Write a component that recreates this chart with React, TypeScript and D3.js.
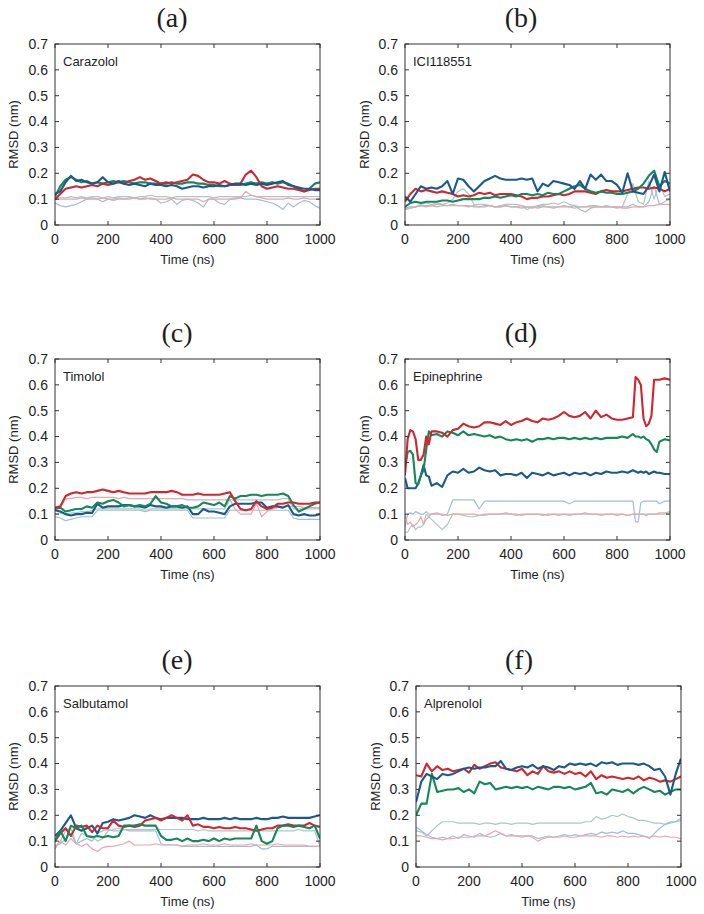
import React from "react";
import * as d3 from "d3";

// Time grids (ns)
const T = [0,20,40,60,80,100,120,140,160,180,200,220,240,260,280,300,320,340,360,380,400,420,440,460,480,500,520,540,560,580,600,620,640,660,680,700,720,740,760,780,800,820,840,860,880,900,920,940,960,980,1000];
const TD = [0,10,20,30,40,50,60,70,80,90,100,120,140,160,180,200,220,240,260,280,300,320,340,360,380,400,420,440,460,480,500,520,540,560,580,600,620,640,660,680,700,720,740,760,780,800,820,840,860,870,880,890,900,910,920,930,940,950,960,980,1000];

const yTicks = [0,0.1,0.2,0.3,0.4,0.5,0.6,0.7];
const xTicks = [0,200,400,600,800,1000];

// (a) Carazolol
const aRed = [0.10,0.12,0.14,0.145,0.15,0.145,0.15,0.155,0.15,0.16,0.155,0.16,0.165,0.16,0.17,0.175,0.185,0.175,0.18,0.17,0.16,0.165,0.16,0.165,0.17,0.175,0.195,0.19,0.175,0.165,0.165,0.16,0.17,0.16,0.155,0.16,0.195,0.21,0.185,0.15,0.14,0.145,0.15,0.145,0.14,0.14,0.135,0.13,0.135,0.14,0.14];
const aGreen = [0.11,0.15,0.175,0.185,0.175,0.165,0.17,0.16,0.165,0.16,0.165,0.17,0.165,0.17,0.165,0.16,0.165,0.165,0.16,0.16,0.16,0.16,0.165,0.16,0.16,0.165,0.165,0.16,0.16,0.155,0.155,0.15,0.15,0.155,0.155,0.155,0.16,0.165,0.16,0.165,0.16,0.165,0.16,0.165,0.16,0.15,0.14,0.13,0.14,0.16,0.165];
const aBlue = [0.12,0.13,0.165,0.19,0.17,0.175,0.165,0.16,0.165,0.185,0.165,0.16,0.17,0.16,0.155,0.16,0.155,0.15,0.16,0.155,0.155,0.15,0.155,0.15,0.14,0.145,0.15,0.15,0.145,0.15,0.15,0.155,0.15,0.155,0.16,0.16,0.155,0.16,0.155,0.16,0.155,0.16,0.165,0.17,0.155,0.15,0.145,0.14,0.14,0.135,0.135];
const aThinTeal = [0.10,0.105,0.105,0.11,0.105,0.11,0.105,0.11,0.11,0.105,0.11,0.105,0.11,0.11,0.11,0.105,0.11,0.11,0.115,0.11,0.11,0.11,0.105,0.11,0.11,0.11,0.11,0.11,0.11,0.11,0.105,0.11,0.11,0.11,0.11,0.11,0.11,0.115,0.11,0.11,0.11,0.11,0.11,0.11,0.11,0.11,0.11,0.11,0.11,0.11,0.11];
const aThinPink = [0.10,0.10,0.10,0.10,0.10,0.105,0.10,0.10,0.10,0.105,0.10,0.10,0.105,0.10,0.10,0.105,0.10,0.10,0.105,0.10,0.10,0.10,0.105,0.10,0.10,0.10,0.10,0.10,0.09,0.10,0.10,0.10,0.10,0.10,0.105,0.105,0.13,0.115,0.11,0.105,0.10,0.10,0.10,0.10,0.105,0.10,0.10,0.105,0.10,0.10,0.10];
const aThinBlue = [0.085,0.075,0.07,0.075,0.08,0.09,0.10,0.105,0.10,0.09,0.10,0.095,0.10,0.10,0.105,0.105,0.10,0.105,0.10,0.10,0.085,0.09,0.10,0.08,0.095,0.10,0.095,0.085,0.07,0.10,0.10,0.085,0.08,0.10,0.10,0.105,0.10,0.10,0.10,0.095,0.09,0.085,0.075,0.06,0.085,0.07,0.085,0.095,0.09,0.075,0.065];

// (b) ICI118551
const bRed = [0.09,0.12,0.14,0.13,0.135,0.13,0.125,0.13,0.125,0.12,0.11,0.115,0.11,0.115,0.125,0.12,0.125,0.115,0.12,0.12,0.12,0.115,0.11,0.10,0.105,0.105,0.11,0.11,0.115,0.12,0.115,0.12,0.13,0.13,0.13,0.125,0.12,0.13,0.135,0.13,0.13,0.13,0.135,0.14,0.145,0.145,0.14,0.145,0.14,0.13,0.14];
const bGreen = [0.07,0.085,0.09,0.085,0.09,0.09,0.09,0.095,0.095,0.09,0.095,0.10,0.10,0.10,0.10,0.105,0.105,0.11,0.105,0.11,0.115,0.11,0.12,0.12,0.115,0.12,0.115,0.125,0.12,0.12,0.13,0.14,0.15,0.155,0.14,0.13,0.125,0.13,0.125,0.125,0.12,0.12,0.125,0.13,0.14,0.16,0.19,0.21,0.15,0.17,0.16];
const bBlue = [0.11,0.09,0.12,0.15,0.14,0.145,0.14,0.15,0.17,0.12,0.18,0.175,0.15,0.13,0.15,0.17,0.18,0.19,0.18,0.175,0.175,0.175,0.18,0.175,0.18,0.13,0.16,0.15,0.17,0.165,0.16,0.155,0.14,0.17,0.14,0.195,0.175,0.195,0.17,0.17,0.155,0.125,0.20,0.13,0.125,0.12,0.15,0.195,0.13,0.205,0.13];
const bThinPink = [0.06,0.065,0.07,0.075,0.075,0.075,0.08,0.08,0.075,0.075,0.075,0.075,0.075,0.07,0.07,0.075,0.075,0.07,0.07,0.075,0.07,0.07,0.075,0.07,0.07,0.065,0.07,0.07,0.07,0.07,0.07,0.07,0.065,0.07,0.07,0.07,0.07,0.07,0.07,0.07,0.07,0.065,0.065,0.07,0.07,0.07,0.075,0.075,0.08,0.08,0.08];
const bThinTeal = [0.06,0.065,0.07,0.08,0.085,0.08,0.085,0.08,0.085,0.10,0.13,0.14,0.12,0.08,0.08,0.08,0.075,0.07,0.075,0.08,0.08,0.08,0.075,0.06,0.07,0.075,0.08,0.08,0.085,0.08,0.09,0.08,0.075,0.07,0.07,0.075,0.075,0.07,0.075,0.07,0.07,0.07,0.12,0.16,0.09,0.08,0.17,0.10,0.16,0.11,0.12];
const bThinBlue = [0.065,0.07,0.07,0.075,0.07,0.075,0.07,0.075,0.075,0.08,0.075,0.075,0.07,0.075,0.07,0.07,0.075,0.07,0.07,0.075,0.07,0.07,0.065,0.07,0.065,0.07,0.075,0.07,0.065,0.07,0.075,0.07,0.075,0.06,0.05,0.065,0.07,0.07,0.07,0.07,0.065,0.07,0.07,0.08,0.07,0.07,0.09,0.15,0.08,0.09,0.10];

// (c) Timolol
const cRed = [0.125,0.13,0.17,0.18,0.185,0.18,0.185,0.185,0.19,0.195,0.19,0.185,0.19,0.185,0.18,0.18,0.18,0.18,0.185,0.185,0.185,0.185,0.19,0.185,0.175,0.175,0.175,0.18,0.175,0.175,0.175,0.175,0.18,0.185,0.15,0.12,0.115,0.12,0.15,0.13,0.12,0.125,0.14,0.14,0.145,0.145,0.14,0.14,0.14,0.145,0.145];
const cGreen = [0.12,0.125,0.11,0.115,0.12,0.12,0.13,0.125,0.145,0.14,0.15,0.155,0.145,0.13,0.135,0.13,0.135,0.13,0.14,0.17,0.145,0.14,0.13,0.13,0.135,0.125,0.125,0.13,0.145,0.14,0.135,0.145,0.13,0.17,0.16,0.17,0.17,0.175,0.175,0.17,0.175,0.175,0.175,0.18,0.17,0.135,0.11,0.12,0.13,0.14,0.145];
const cBlue = [0.115,0.11,0.10,0.095,0.10,0.10,0.105,0.105,0.14,0.125,0.13,0.13,0.13,0.135,0.135,0.13,0.13,0.125,0.135,0.13,0.13,0.125,0.13,0.13,0.125,0.13,0.10,0.10,0.12,0.11,0.11,0.105,0.10,0.13,0.14,0.14,0.14,0.14,0.145,0.145,0.125,0.13,0.13,0.125,0.135,0.10,0.095,0.10,0.095,0.095,0.10];
const cThinPink = [0.12,0.125,0.16,0.16,0.165,0.165,0.16,0.165,0.165,0.165,0.165,0.165,0.16,0.165,0.16,0.16,0.16,0.16,0.16,0.16,0.16,0.16,0.16,0.16,0.16,0.155,0.155,0.155,0.155,0.155,0.155,0.155,0.155,0.155,0.12,0.10,0.10,0.10,0.14,0.09,0.11,0.12,0.125,0.13,0.13,0.13,0.13,0.125,0.125,0.125,0.125];
const cThinTeal = [0.10,0.105,0.10,0.105,0.105,0.11,0.11,0.115,0.12,0.12,0.12,0.12,0.12,0.12,0.12,0.12,0.12,0.115,0.12,0.12,0.12,0.12,0.12,0.12,0.12,0.12,0.12,0.12,0.12,0.12,0.12,0.12,0.12,0.155,0.155,0.155,0.155,0.155,0.155,0.155,0.155,0.155,0.155,0.16,0.16,0.12,0.12,0.12,0.12,0.12,0.12];
const cThinBlue = [0.09,0.085,0.075,0.08,0.085,0.09,0.09,0.09,0.115,0.115,0.115,0.115,0.115,0.115,0.115,0.115,0.115,0.11,0.115,0.115,0.115,0.115,0.115,0.115,0.115,0.115,0.085,0.085,0.085,0.085,0.085,0.085,0.085,0.115,0.115,0.115,0.115,0.115,0.115,0.115,0.115,0.115,0.115,0.115,0.115,0.085,0.08,0.08,0.08,0.08,0.08];

// (d) Epinephrine (on TD grid)
const dRed = [0.25,0.39,0.425,0.42,0.39,0.31,0.31,0.33,0.40,0.37,0.42,0.42,0.415,0.40,0.425,0.43,0.45,0.44,0.435,0.44,0.455,0.455,0.45,0.445,0.46,0.445,0.455,0.46,0.47,0.46,0.455,0.47,0.465,0.47,0.48,0.495,0.48,0.475,0.48,0.495,0.47,0.50,0.475,0.485,0.47,0.465,0.465,0.47,0.475,0.63,0.62,0.60,0.47,0.44,0.45,0.48,0.62,0.62,0.62,0.625,0.62];
const dGreen = [0.28,0.34,0.345,0.33,0.22,0.215,0.25,0.27,0.35,0.42,0.405,0.41,0.40,0.42,0.415,0.405,0.42,0.405,0.41,0.405,0.40,0.405,0.395,0.40,0.39,0.385,0.39,0.385,0.39,0.38,0.39,0.39,0.395,0.39,0.395,0.395,0.39,0.395,0.39,0.395,0.39,0.395,0.39,0.395,0.395,0.395,0.40,0.395,0.41,0.40,0.40,0.395,0.40,0.39,0.385,0.37,0.35,0.34,0.38,0.39,0.385];
const dBlue = [0.24,0.20,0.20,0.20,0.20,0.22,0.25,0.29,0.25,0.245,0.21,0.22,0.205,0.25,0.265,0.26,0.275,0.26,0.265,0.28,0.27,0.265,0.27,0.25,0.255,0.255,0.25,0.26,0.24,0.26,0.255,0.25,0.26,0.25,0.255,0.26,0.25,0.26,0.255,0.26,0.25,0.26,0.255,0.265,0.26,0.26,0.265,0.26,0.27,0.265,0.26,0.265,0.26,0.265,0.255,0.26,0.265,0.26,0.26,0.255,0.255];
const dThinBlue = [0.05,0.10,0.105,0.10,0.11,0.105,0.10,0.10,0.11,0.10,0.10,0.105,0.095,0.10,0.155,0.155,0.155,0.155,0.155,0.12,0.15,0.15,0.15,0.15,0.15,0.15,0.15,0.15,0.15,0.15,0.15,0.15,0.15,0.15,0.15,0.15,0.14,0.15,0.15,0.15,0.15,0.15,0.15,0.15,0.15,0.15,0.15,0.15,0.15,0.07,0.07,0.145,0.15,0.15,0.15,0.15,0.15,0.15,0.14,0.15,0.15];
const dThinPink = [0.10,0.06,0.07,0.05,0.06,0.07,0.09,0.06,0.08,0.09,0.10,0.10,0.10,0.095,0.10,0.10,0.10,0.10,0.10,0.095,0.10,0.10,0.10,0.10,0.105,0.10,0.10,0.095,0.10,0.10,0.10,0.095,0.10,0.10,0.095,0.10,0.095,0.10,0.10,0.105,0.10,0.10,0.095,0.10,0.10,0.095,0.10,0.095,0.10,0.10,0.10,0.10,0.10,0.095,0.10,0.10,0.10,0.10,0.10,0.10,0.105];
const dThinTeal = [0.03,0.03,0.05,0.06,0.04,0.05,0.05,0.06,0.10,0.09,0.08,0.06,0.04,0.06,0.10,0.10,0.095,0.09,0.09,0.095,0.095,0.10,0.10,0.10,0.10,0.10,0.095,0.10,0.10,0.10,0.10,0.10,0.095,0.10,0.10,0.10,0.10,0.10,0.10,0.10,0.10,0.10,0.10,0.10,0.10,0.10,0.10,0.095,0.10,0.10,0.10,0.10,0.10,0.10,0.10,0.10,0.10,0.10,0.105,0.105,0.11];

// (e) Salbutamol
const eRed = [0.10,0.13,0.15,0.12,0.16,0.155,0.16,0.135,0.16,0.15,0.15,0.18,0.16,0.155,0.16,0.155,0.16,0.18,0.185,0.19,0.18,0.19,0.20,0.19,0.18,0.20,0.16,0.165,0.155,0.155,0.15,0.155,0.15,0.15,0.155,0.15,0.15,0.145,0.14,0.145,0.15,0.15,0.16,0.16,0.165,0.16,0.16,0.16,0.17,0.16,0.155];
const eGreen = [0.10,0.14,0.10,0.16,0.15,0.16,0.12,0.115,0.12,0.115,0.12,0.115,0.12,0.16,0.16,0.16,0.165,0.16,0.16,0.16,0.12,0.105,0.105,0.11,0.10,0.11,0.10,0.10,0.105,0.10,0.11,0.10,0.11,0.105,0.11,0.11,0.11,0.11,0.16,0.10,0.09,0.10,0.15,0.16,0.16,0.155,0.16,0.155,0.15,0.16,0.11];
const eBlue = [0.12,0.14,0.17,0.20,0.15,0.14,0.15,0.16,0.13,0.17,0.175,0.185,0.18,0.185,0.19,0.20,0.195,0.19,0.20,0.19,0.185,0.19,0.19,0.19,0.19,0.185,0.185,0.185,0.19,0.185,0.185,0.185,0.19,0.185,0.19,0.185,0.185,0.185,0.19,0.185,0.185,0.19,0.19,0.195,0.19,0.19,0.19,0.19,0.19,0.195,0.20];
const eThinPink = [0.07,0.10,0.085,0.11,0.09,0.08,0.09,0.07,0.06,0.075,0.08,0.08,0.085,0.09,0.10,0.085,0.085,0.085,0.085,0.09,0.085,0.085,0.085,0.085,0.08,0.085,0.085,0.085,0.09,0.085,0.085,0.085,0.09,0.085,0.085,0.085,0.085,0.09,0.085,0.085,0.085,0.085,0.09,0.085,0.085,0.085,0.085,0.085,0.08,0.08,0.08];
const eThinTeal = [0.08,0.10,0.14,0.15,0.09,0.13,0.12,0.12,0.10,0.11,0.14,0.145,0.15,0.145,0.145,0.145,0.145,0.145,0.145,0.145,0.145,0.145,0.145,0.145,0.145,0.145,0.145,0.14,0.145,0.14,0.14,0.14,0.14,0.14,0.14,0.14,0.14,0.14,0.14,0.14,0.14,0.14,0.14,0.14,0.14,0.14,0.145,0.14,0.14,0.14,0.08];
const eThinBlue = [0.08,0.09,0.11,0.13,0.09,0.10,0.11,0.10,0.13,0.14,0.145,0.14,0.14,0.145,0.14,0.14,0.14,0.14,0.14,0.14,0.09,0.085,0.085,0.085,0.08,0.08,0.08,0.08,0.08,0.08,0.08,0.08,0.08,0.08,0.08,0.08,0.08,0.08,0.085,0.07,0.07,0.08,0.08,0.08,0.08,0.08,0.08,0.08,0.08,0.08,0.08];

// (f) Alprenolol
const fRed = [0.355,0.35,0.40,0.37,0.39,0.375,0.38,0.37,0.375,0.38,0.365,0.395,0.38,0.39,0.40,0.405,0.385,0.38,0.375,0.37,0.38,0.355,0.37,0.36,0.39,0.37,0.365,0.37,0.36,0.37,0.36,0.365,0.35,0.37,0.34,0.355,0.345,0.35,0.345,0.34,0.345,0.34,0.35,0.335,0.345,0.34,0.33,0.335,0.33,0.34,0.35];
const fGreen = [0.20,0.245,0.245,0.36,0.29,0.295,0.30,0.30,0.305,0.29,0.30,0.285,0.33,0.32,0.325,0.30,0.305,0.31,0.305,0.31,0.305,0.31,0.30,0.31,0.305,0.30,0.31,0.31,0.305,0.31,0.30,0.305,0.31,0.325,0.285,0.29,0.28,0.30,0.295,0.29,0.30,0.285,0.30,0.31,0.30,0.29,0.295,0.28,0.29,0.30,0.30];
const fBlue = [0.25,0.33,0.36,0.35,0.34,0.36,0.355,0.36,0.37,0.38,0.385,0.38,0.385,0.385,0.39,0.39,0.41,0.38,0.375,0.385,0.39,0.385,0.395,0.38,0.39,0.385,0.375,0.39,0.385,0.40,0.395,0.40,0.395,0.40,0.39,0.405,0.40,0.405,0.395,0.40,0.40,0.40,0.395,0.40,0.39,0.375,0.38,0.35,0.28,0.36,0.42];
const fThinPink = [0.12,0.12,0.115,0.11,0.11,0.105,0.11,0.11,0.115,0.115,0.115,0.12,0.12,0.12,0.13,0.14,0.13,0.12,0.12,0.12,0.115,0.12,0.115,0.10,0.11,0.115,0.115,0.115,0.12,0.115,0.115,0.12,0.12,0.12,0.12,0.115,0.12,0.12,0.115,0.12,0.115,0.12,0.115,0.12,0.115,0.12,0.115,0.12,0.115,0.115,0.11];
const fThinTeal = [0.14,0.135,0.12,0.14,0.16,0.175,0.175,0.175,0.17,0.17,0.17,0.17,0.165,0.17,0.17,0.165,0.17,0.17,0.165,0.17,0.17,0.17,0.165,0.17,0.17,0.17,0.17,0.17,0.17,0.17,0.17,0.17,0.175,0.175,0.195,0.185,0.19,0.20,0.195,0.205,0.195,0.19,0.18,0.18,0.175,0.17,0.17,0.165,0.17,0.175,0.18];
const fThinBlue = [0.155,0.14,0.125,0.115,0.11,0.115,0.11,0.12,0.11,0.125,0.12,0.115,0.13,0.12,0.115,0.12,0.13,0.12,0.125,0.12,0.12,0.12,0.12,0.11,0.115,0.12,0.115,0.12,0.125,0.12,0.125,0.12,0.125,0.13,0.125,0.135,0.13,0.135,0.13,0.14,0.13,0.13,0.125,0.12,0.11,0.13,0.15,0.165,0.175,0.175,0.19];

const COLORS = {
  red: "#cf2631",
  green: "#14875b",
  blue: "#1a5a8b",
  pink: "#e8a6ad",
  teal: "#a9c9c2",
  lblue: "#a0bfd3",
};

type Panel = {
  tag: string; name: string; left: number; top: number; tagX: number; ylabX: number;
  t: number[];
  thin: [string, number[]][];
  thick: [string, number[]][];
};

const W = 265;
const H = 181;

const PANELS: Panel[] = [
  { tag: "(a)", name: "Carazolol", left: 55, top: 44, tagX: 172, ylabX: 13, t: T,
    thin: [["teal", aThinTeal], ["lblue", aThinBlue], ["pink", aThinPink]],
    thick: [["green", aGreen], ["red", aRed], ["blue", aBlue]] },
  { tag: "(b)", name: "ICI118551", left: 405, top: 44, tagX: 521, ylabX: 364, t: T,
    thin: [["teal", bThinTeal], ["lblue", bThinBlue], ["pink", bThinPink]],
    thick: [["red", bRed], ["green", bGreen], ["blue", bBlue]] },
  { tag: "(c)", name: "Timolol", left: 55, top: 359, tagX: 177, ylabX: 13, t: T,
    thin: [["teal", cThinTeal], ["lblue", cThinBlue], ["pink", cThinPink]],
    thick: [["blue", cBlue], ["green", cGreen], ["red", cRed]] },
  { tag: "(d)", name: "Epinephrine", left: 405, top: 359, tagX: 521, ylabX: 364, t: TD,
    thin: [["teal", dThinTeal], ["lblue", dThinBlue], ["pink", dThinPink]],
    thick: [["blue", dBlue], ["green", dGreen], ["red", dRed]] },
  { tag: "(e)", name: "Salbutamol", left: 55, top: 686, tagX: 177, ylabX: 13, t: T,
    thin: [["teal", eThinTeal], ["lblue", eThinBlue], ["pink", eThinPink]],
    thick: [["blue", eBlue], ["red", eRed], ["green", eGreen]] },
  { tag: "(f)", name: "Alprenolol", left: 416, top: 686, tagX: 519, ylabX: 375, t: T,
    thin: [["teal", fThinTeal], ["lblue", fThinBlue], ["pink", fThinPink]],
    thick: [["green", fGreen], ["red", fRed], ["blue", fBlue]] },
];

const SANS = "'Liberation Sans', Arial, Helvetica, sans-serif";
const SERIF = "'Liberation Serif', 'Times New Roman', serif";
const INK = "#1e1e1e";

function PanelView({ p }: { p: Panel }) {
  const x = d3.scaleLinear().domain([0, 1000]).range([p.left, p.left + W]);
  const y = d3.scaleLinear().domain([0, 0.7]).range([p.top + H, p.top]);
  const line = d3.line<[number, number]>().x(d => x(d[0])).y(d => y(d[1]));
  const pts = (vals: number[]) => vals.slice(0, p.t.length).map((v, i) => [p.t[i], v] as [number, number]);
  const bottom = p.top + H;
  const clipId = "clip-" + p.name;
  return (
    <g>
      <clipPath id={clipId}>
        <rect x={p.left} y={p.top} width={W} height={H} />
      </clipPath>
      <text x={p.tagX} y={p.top - 17} textAnchor="middle" fontFamily={SERIF} fontSize={28} fill={INK}>{p.tag}</text>
      <g clipPath={`url(#${clipId})`}>
        {p.thin.map(([c, v], i) => (
          <path key={"t" + i} d={line(pts(v)) || ""} fill="none" stroke={(COLORS as any)[c]} strokeWidth={1.2} strokeLinejoin="round" />
        ))}
        {p.thick.map(([c, v], i) => (
          <path key={"k" + i} d={line(pts(v)) || ""} fill="none" stroke={(COLORS as any)[c]} strokeWidth={2.1} strokeLinejoin="round" />
        ))}
      </g>
      <rect x={p.left} y={p.top} width={W} height={H} fill="none" stroke="#333" strokeWidth={1} />
      {yTicks.map(v => (
        <g key={"y" + v}>
          <line x1={p.left} x2={p.left + 4} y1={y(v)} y2={y(v)} stroke="#333" />
          <line x1={p.left + W} x2={p.left + W - 4} y1={y(v)} y2={y(v)} stroke="#333" />
          <text x={p.left - 7} y={y(v)} dy="0.35em" textAnchor="end" fontFamily={SANS} fontSize={14} fill={INK}>{v === 0 ? "0" : v.toFixed(1)}</text>
        </g>
      ))}
      {xTicks.map(v => (
        <g key={"x" + v}>
          <line x1={x(v)} x2={x(v)} y1={bottom} y2={bottom - 4} stroke="#333" />
          <line x1={x(v)} x2={x(v)} y1={p.top} y2={p.top + 4} stroke="#333" />
          <text x={x(v)} y={bottom + 14} dy="0.35em" textAnchor="middle" fontFamily={SANS} fontSize={14} fill={INK}>{v}</text>
        </g>
      ))}
      <text x={p.left + W / 2} y={bottom + 34} dy="0.35em" textAnchor="middle" fontFamily={SANS} fontSize={13} fill={INK}>Time (ns)</text>
      <text transform={`translate(${p.ylabX},${p.top + H / 2}) rotate(-90)`} dy="0.35em" textAnchor="middle" fontFamily={SANS} fontSize={13} fill={INK}>RMSD (nm)</text>
      <text x={p.left + 8} y={p.top + 22} fontFamily={SANS} fontSize={13} fill={INK}>{p.name}</text>
    </g>
  );
}

export default function App() {
  return (
    <svg width={704} height={914} style={{ position: "absolute", left: 0, top: 0, background: "#fff" }}>
      <rect x={0} y={0} width={704} height={914} fill="#fff" />
      {PANELS.map(p => <PanelView key={p.tag} p={p} />)}
    </svg>
  );
}
